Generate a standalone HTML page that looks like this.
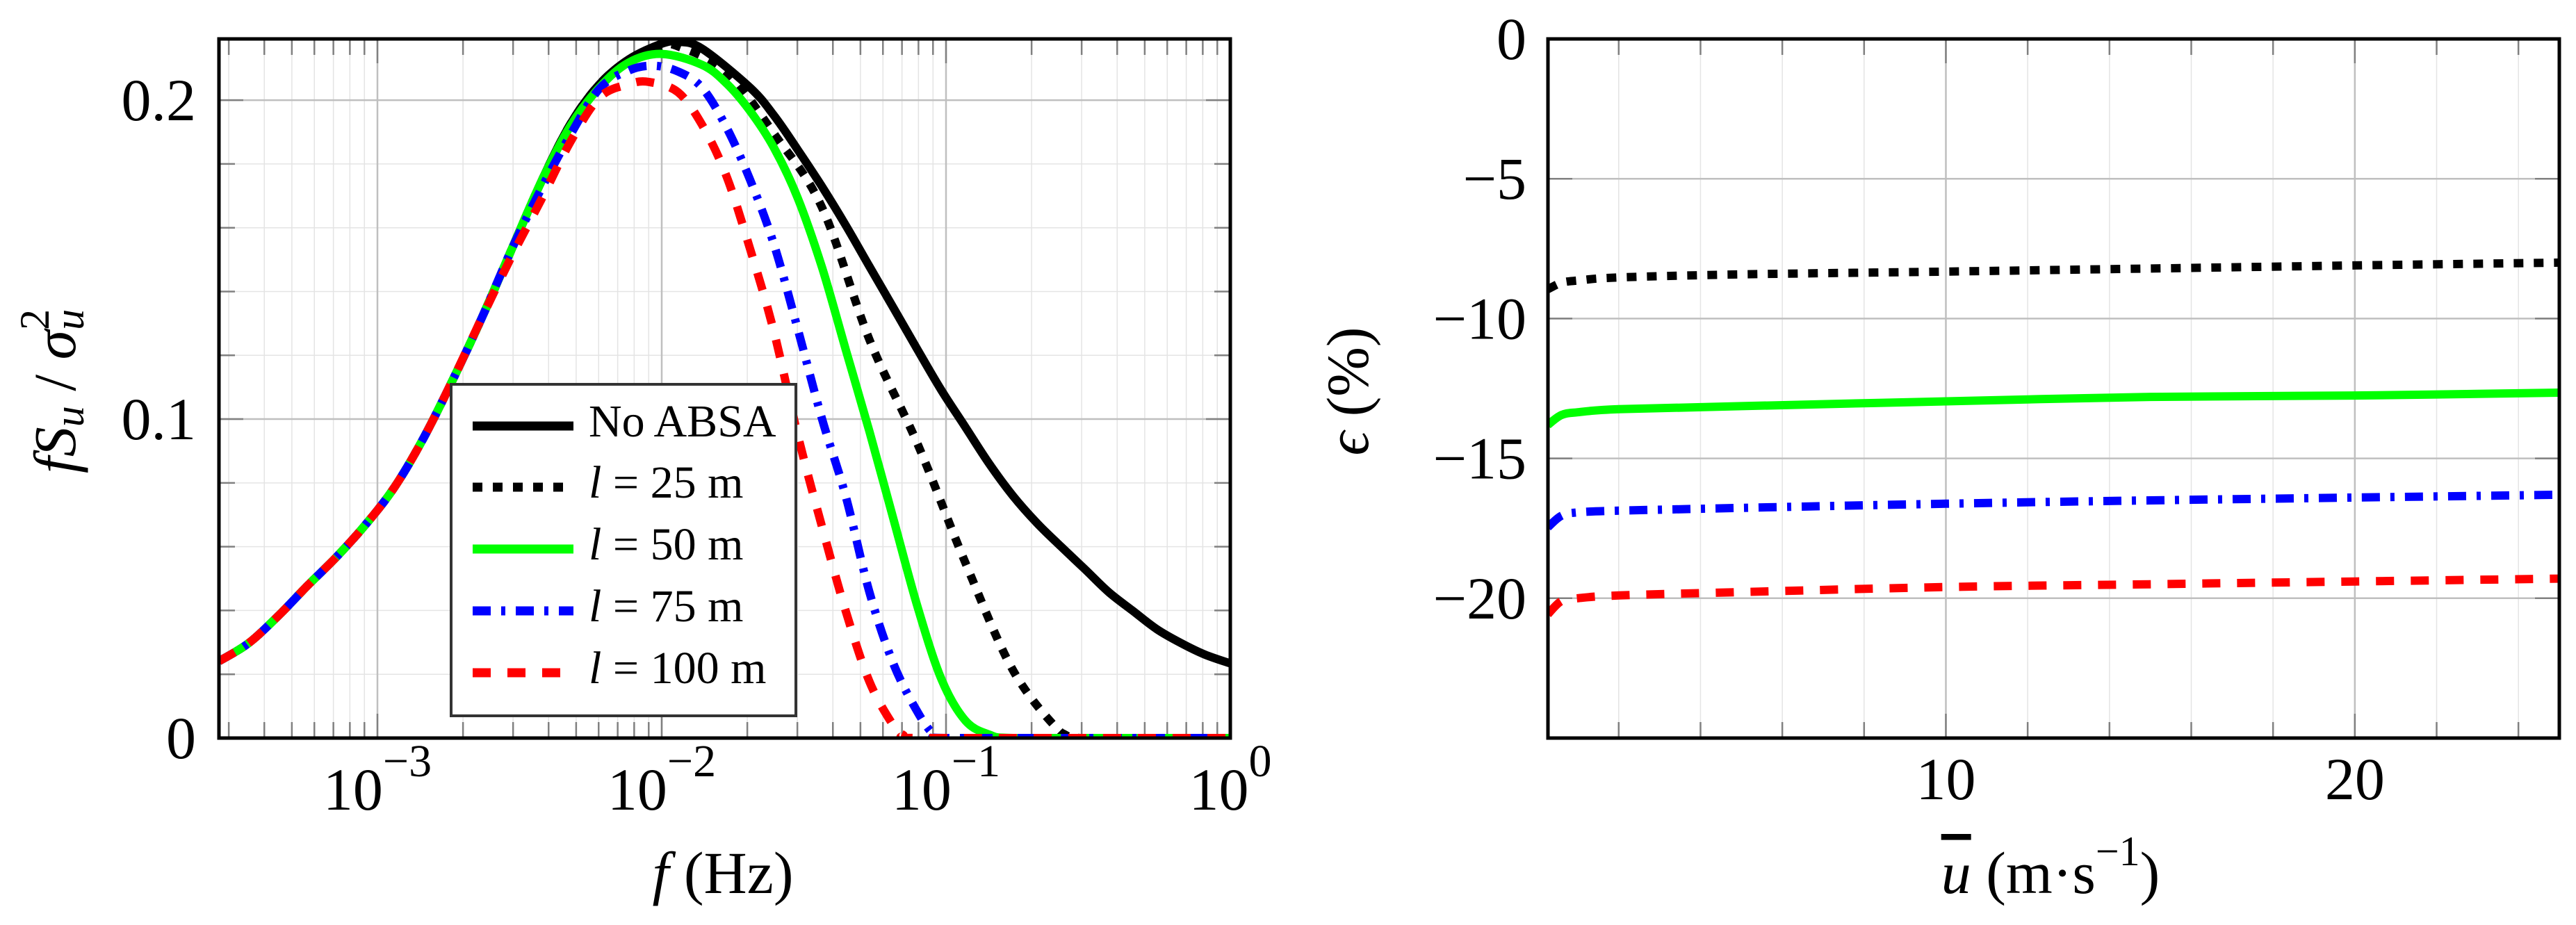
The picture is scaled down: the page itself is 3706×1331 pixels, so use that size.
<!DOCTYPE html>
<html><head><meta charset="utf-8"><style>
html,body{margin:0;padding:0;background:#fff}
svg{display:block}
text{font-family:"Liberation Serif",serif;fill:#000}
</style></head><body>
<svg id="fig" xmlns="http://www.w3.org/2000/svg" width="3706" height="1331" viewBox="0 0 3706 1331"></svg>
<script>
// ---- Left chart data (frequency given as log10 f) ----
const spectrumTicks = [-3, -2, -1, 0];
const spectrumYTicks = [0, 0.1, 0.2];
const logFreqNoAbsa = [-3.557,-3.454,-3.351,-3.248,-3.145,-3.042,-2.939,-2.837,-2.734,-2.631,-2.528,-2.425,-2.322,-2.219,-2.116,-2.0,-1.943,-1.859,-1.69,-1.606,-1.522,-1.437,-1.353,-1.269,-1.185,-1.101,-1.016,-0.932,-0.848,-0.764,-0.679,-0.595,-0.511,-0.427,-0.343,-0.258,-0.174,-0.09,0];
const valNoAbsa     = [0.0241,0.0297,0.0381,0.0476,0.0567,0.0669,0.0788,0.0942,0.1125,0.1321,0.1532,0.1742,0.1924,0.205,0.2128,0.2177,0.2183,0.2162,0.204,0.1953,0.1845,0.173,0.1608,0.1478,0.1349,0.1219,0.109,0.0975,0.086,0.0759,0.0673,0.06,0.0529,0.0457,0.0399,0.0341,0.0298,0.0262,0.0234];
const logFreqL25 = [-3.557,-3.454,-3.351,-3.248,-3.145,-3.042,-2.939,-2.837,-2.734,-2.631,-2.528,-2.425,-2.322,-2.219,-2.116,-2.0,-1.943,-1.774,-1.606,-1.437,-1.269,-1.101,-0.932,-0.764,-0.595,-0.528,-0.3,0];
const valL25     = [0.0241,0.0297,0.0381,0.0476,0.0567,0.0669,0.0788,0.0942,0.1125,0.1321,0.1532,0.1742,0.1924,0.205,0.2126,0.2168,0.2169,0.209,0.1896,0.1665,0.1248,0.0924,0.055,0.0212,0.0017,0,0,0];
const logFreqL50 = [-3.557,-3.454,-3.351,-3.248,-3.145,-3.042,-2.939,-2.837,-2.734,-2.631,-2.528,-2.425,-2.322,-2.219,-2.116,-2.0,-1.859,-1.774,-1.69,-1.606,-1.522,-1.437,-1.353,-1.269,-1.185,-1.101,-1.016,-0.932,-0.848,-0.764,-0.4,0];
const valL50     = [0.0241,0.0297,0.0381,0.0476,0.0567,0.0669,0.0788,0.0942,0.1125,0.1321,0.1532,0.1742,0.1918,0.204,0.2118,0.2145,0.2111,0.2054,0.1967,0.1852,0.1694,0.1478,0.1219,0.096,0.0687,0.0414,0.0184,0.0055,0.0011,0,0,0];
const logFreqL75 = [-3.557,-3.454,-3.351,-3.248,-3.145,-3.042,-2.939,-2.837,-2.734,-2.631,-2.528,-2.425,-2.322,-2.219,-2.116,-2.03,-1.943,-1.859,-1.774,-1.69,-1.606,-1.522,-1.437,-1.353,-1.269,-1.185,-1.101,-1.042,-1.0,-0.5,0];
const valL75     = [0.0241,0.0297,0.0381,0.0476,0.0567,0.0669,0.0788,0.0942,0.1125,0.1321,0.1532,0.172,0.189,0.2036,0.2093,0.2108,0.209,0.204,0.1918,0.1752,0.155,0.1284,0.1003,0.0759,0.0456,0.0233,0.0083,0.001,0,0,0];
const logFreqL100 = [-3.557,-3.454,-3.351,-3.248,-3.145,-3.042,-2.939,-2.837,-2.734,-2.631,-2.528,-2.425,-2.322,-2.219,-2.116,-2.044,-1.943,-1.859,-1.774,-1.69,-1.606,-1.522,-1.437,-1.353,-1.269,-1.185,-1.151,-1.109,-0.6,0];
const valL100     = [0.0241,0.0297,0.0381,0.0476,0.0567,0.0669,0.0788,0.0942,0.1125,0.1321,0.151,0.1686,0.1868,0.2008,0.205,0.2057,0.2025,0.1924,0.1766,0.1536,0.1277,0.0952,0.0665,0.0399,0.0176,0.0039,0.001,0,0,0];
// ---- Right chart data ----
const windSpeeds = [0.27,0.6,1,2,5,10,15,20,25];
const errL25  = [-8.95,-8.72,-8.64,-8.53,-8.42,-8.32,-8.21,-8.1,-8.0];
const errL50  = [-13.8,-13.45,-13.35,-13.24,-13.13,-12.96,-12.8,-12.75,-12.65];
const errL75  = [-17.46,-17.05,-16.93,-16.87,-16.77,-16.62,-16.5,-16.4,-16.3];
const errL100 = [-20.57,-20.1,-20.0,-19.9,-19.78,-19.6,-19.5,-19.4,-19.3];
const errYTicks = [0,-5,-10,-15,-20];
const errXTicks = [10,20];

const NS="http://www.w3.org/2000/svg";
const svg=document.getElementById('fig');
function mk(tag,attrs,parent){const e=document.createElementNS(NS,tag);for(const k in attrs)e.setAttribute(k,attrs[k]);(parent||svg).appendChild(e);return e;}

// Left axes: 10^-2 at x=952, one decade = 409px
const L={x0:315,x1:1770,y0:56,y1:1062,ymin:0,ymax:0.2192};
const lxl=lg=>952+(lg+2)*409;
const ly=v=>L.y1-(v-L.ymin)/(L.ymax-L.ymin)*(L.y1-L.y0);
// Right axes
const R={x0:2227,x1:3682,y0:56,y1:1062,xmin:0.27,xmax:25,ymin:-25,ymax:0};
const rx=u=>R.x0+(u-R.xmin)/(R.xmax-R.xmin)*(R.x1-R.x0);
const ry=v=>R.y1-(v-R.ymin)/(R.ymax-R.ymin)*(R.y1-R.y0);

function crPath(pts,clampY){
  let d='M'+pts[0][0].toFixed(1)+','+pts[0][1].toFixed(1);
  for(let i=0;i<pts.length-1;i++){
    const p0=pts[Math.max(0,i-1)],p1=pts[i],p2=pts[i+1],p3=pts[Math.min(pts.length-1,i+2)];
    let c1=[p1[0]+(p2[0]-p0[0])/6,p1[1]+(p2[1]-p0[1])/6];
    let c2=[p2[0]-(p3[0]-p1[0])/6,p2[1]-(p3[1]-p1[1])/6];
    if(clampY!==undefined){c1[1]=Math.min(c1[1],clampY);c2[1]=Math.min(c2[1],clampY);}
    d+=' C'+c1[0].toFixed(1)+','+c1[1].toFixed(1)+' '+c2[0].toFixed(1)+','+c2[1].toFixed(1)+' '+p2[0].toFixed(1)+','+p2[1].toFixed(1);
  }
  return d;
}

const defs=mk('defs',{});
const cpL=mk('clipPath',{id:'clipL'},defs);mk('rect',{x:L.x0,y:L.y0,width:L.x1-L.x0,height:L.y1-L.y0},cpL);
const cpR=mk('clipPath',{id:'clipR'},defs);mk('rect',{x:R.x0,y:R.y0,width:R.x1-R.x0,height:R.y1-R.y0},cpR);

// ---- Left grid ----
const gL=mk('g',{});


for(let d=-4;d<=-1;d++)for(let k=2;k<=9;k++){const x=lxl(d+Math.log10(k));if(x<=L.x0||x>=L.x1)continue;
  mk('line',{x1:x,x2:x,y1:L.y0,y2:L.y1,stroke:'#e4e4e4','stroke-width':1.5},gL);
  mk('line',{x1:x,x2:x,y1:L.y1,y2:L.y1-23,stroke:'#808080','stroke-width':2.5},gL);
  mk('line',{x1:x,x2:x,y1:L.y0,y2:L.y0+23,stroke:'#808080','stroke-width':2.5},gL);}
for(let i=1;i<=10;i++){const v=i*0.02;if(Math.abs(v-0.1)<1e-9||Math.abs(v-0.2)<1e-9)continue;const y=ly(v);
  mk('line',{x1:L.x0,x2:L.x1,y1:y,y2:y,stroke:'#e4e4e4','stroke-width':1.5},gL);
  mk('line',{x1:L.x0,x2:L.x0+23,y1:y,y2:y,stroke:'#808080','stroke-width':2.5},gL);
  mk('line',{x1:L.x1,x2:L.x1-23,y1:y,y2:y,stroke:'#808080','stroke-width':2.5},gL);}
spectrumTicks.forEach(t=>{const x=lxl(t);
  if(x>=L.x1-2) return;
  mk('line',{x1:x,x2:x,y1:L.y0,y2:L.y1,stroke:'#bfbfbf','stroke-width':2.5},gL);
  mk('line',{x1:x,x2:x,y1:L.y1,y2:L.y1-35,stroke:'#808080','stroke-width':2.5},gL);
  mk('line',{x1:x,x2:x,y1:L.y0,y2:L.y0+35,stroke:'#808080','stroke-width':2.5},gL);});
spectrumYTicks.forEach(v=>{const y=ly(v);if(v===0)return;
  mk('line',{x1:L.x0,x2:L.x1,y1:y,y2:y,stroke:'#bfbfbf','stroke-width':2.5},gL);
  mk('line',{x1:L.x0,x2:L.x0+35,y1:y,y2:y,stroke:'#808080','stroke-width':2.5},gL);
  mk('line',{x1:L.x1,x2:L.x1-35,y1:y,y2:y,stroke:'#808080','stroke-width':2.5},gL);});

// ---- Left series ----
const seriesL=[
 {name:'no-absa-curve',f:logFreqNoAbsa,v:valNoAbsa,c:'#000',dash:''},
 {name:'l25-curve',f:logFreqL25,v:valL25,c:'#000',dash:'14 15'},
 {name:'l50-curve',f:logFreqL50,v:valL50,c:'#00ff00',dash:''},
 {name:'l75-curve',f:logFreqL75,v:valL75,c:'#0000ff',dash:'26 15 6 15'},
 {name:'l100-curve',f:logFreqL100,v:valL100,c:'#ff0000',dash:'26 24'}];
const gLs=mk('g',{'clip-path':'url(#clipL)'});
seriesL.forEach(s=>{const pts=s.f.map((f,i)=>[lxl(f),ly(s.v[i])]);
  const p=mk('path',{d:crPath(pts,L.y1),fill:'none',stroke:s.c,'stroke-width':12,'stroke-dasharray':s.dash||'none','stroke-linejoin':'round'},gLs);
  
  });
const fl=mk('rect',{x:L.x0,y:L.y0,width:L.x1-L.x0,height:L.y1-L.y0,fill:'none',stroke:'#000','stroke-width':5});



// Left tick labels
spectrumTicks.forEach(t=>{const x=Math.min(lxl(t),L.x1+4);
  const tx=mk('text',{x:x,y:1165,'font-size':86,'text-anchor':'middle'});
  
  
  const a=mk('tspan',{},tx);a.textContent='10';
  const b=mk('tspan',{dy:-48,'font-size':66},tx);b.textContent=(t<0?'\u2212'+(-t):''+t);});
spectrumYTicks.forEach(v=>{const t=mk('text',{x:282,y:ly(v)+29,'font-size':86,'text-anchor':'end'});
  
  
  t.textContent=(v===0?'0':v.toFixed(1));});

// ---- Right grid ----
const gR=mk('g',{});


for(let u=2;u<=24;u+=2){const x=rx(u);const major=(u%10===0);
  mk('line',{x1:x,x2:x,y1:R.y0,y2:R.y1,stroke:major?'#bfbfbf':'#e4e4e4','stroke-width':major?2.5:1.5},gR);
  mk('line',{x1:x,x2:x,y1:R.y1,y2:R.y1-(major?35:23),stroke:'#808080','stroke-width':2.5},gR);
  mk('line',{x1:x,x2:x,y1:R.y0,y2:R.y0+(major?35:23),stroke:'#808080','stroke-width':2.5},gR);}
errYTicks.forEach(v=>{if(v===0)return;const y=ry(v);
  mk('line',{x1:R.x0,x2:R.x1,y1:y,y2:y,stroke:'#bfbfbf','stroke-width':2.5},gR);
  mk('line',{x1:R.x0,x2:R.x0+35,y1:y,y2:y,stroke:'#808080','stroke-width':2.5},gR);
  mk('line',{x1:R.x1,x2:R.x1-35,y1:y,y2:y,stroke:'#808080','stroke-width':2.5},gR);});
const seriesR=[
 {name:'error-l25',v:errL25,c:'#000',dash:'14 15'},
 {name:'error-l50',v:errL50,c:'#00ff00',dash:''},
 {name:'error-l75',v:errL75,c:'#0000ff',dash:'26 15 6 15'},
 {name:'error-l100',v:errL100,c:'#ff0000',dash:'26 24'}];
const gRs=mk('g',{'clip-path':'url(#clipR)'});
seriesR.forEach(s=>{const pts=windSpeeds.map((u,i)=>[rx(u),ry(s.v[i])]);
  const p=mk('path',{d:crPath(pts),fill:'none',stroke:s.c,'stroke-width':12,'stroke-dasharray':s.dash||'none'},gRs);
  
  });
const fr=mk('rect',{x:R.x0,y:R.y0,width:R.x1-R.x0,height:R.y1-R.y0,fill:'none',stroke:'#000','stroke-width':5});


errXTicks.forEach(u=>{const t=mk('text',{x:rx(u),y:1150,'font-size':86,'text-anchor':'middle'});
  
  
  t.textContent=String(u);});
errYTicks.forEach(v=>{const t=mk('text',{x:2196,y:ry(v)+29,'font-size':86,'text-anchor':'end'});
  
  
  t.textContent=(v<0?'\u2212'+(-v):'0');});
</script>
<svg xmlns="http://www.w3.org/2000/svg" width="3706" height="1331" style="position:absolute;left:0;top:0">
 <g>
  <rect x="649" y="553" width="496" height="477" fill="#fff" stroke="#333" stroke-width="4"/>
  <line x1="680" x2="825" y1="613" y2="613" stroke="#000" stroke-width="13"/>
  <text x="847" y="628" font-size="66">No ABSA</text>
  <line x1="680" x2="825" y1="701" y2="701" stroke="#000" stroke-width="13" stroke-dasharray="14 15"/>
  <text x="847" y="716" font-size="66"><tspan font-style="italic">l</tspan> = 25 m</text>
  <line x1="680" x2="825" y1="790" y2="790" stroke="#00ff00" stroke-width="13"/>
  <text x="847" y="805" font-size="66"><tspan font-style="italic">l</tspan> = 50 m</text>
  <line x1="680" x2="825" y1="879" y2="879" stroke="#0000ff" stroke-width="13" stroke-dasharray="26 15 6 15"/>
  <text x="847" y="894" font-size="66"><tspan font-style="italic">l</tspan> = 75 m</text>
  <line x1="680" x2="825" y1="968" y2="968" stroke="#ff0000" stroke-width="13" stroke-dasharray="26 24"/>
  <text x="847" y="983" font-size="66"><tspan font-style="italic">l</tspan> = 100 m</text>
 </g>
 <text x="1040" y="1285" font-size="86" text-anchor="middle" fill="#222"><tspan font-style="italic">f</tspan> (Hz)</text>
 <text transform="translate(108,563) rotate(-90)" font-size="86" text-anchor="middle" fill="#222"><tspan font-style="italic">fS</tspan><tspan font-style="italic" font-size="60" dy="12">u</tspan><tspan dy="-12"> / </tspan><tspan font-style="italic">σ</tspan><tspan font-style="italic" font-size="60" dy="12">u</tspan><tspan font-size="60" dx="-30" dy="-50">2</tspan></text>
 <text x="2950" y="1285" font-size="86" text-anchor="middle" fill="#222"><tspan font-style="italic" text-decoration="overline">u</tspan> (m·s<tspan font-size="60" dy="-40">−1</tspan><tspan dy="40">)</tspan></text>
 <text transform="translate(1968,563) rotate(-90)" font-size="86" text-anchor="middle" fill="#222"><tspan font-style="italic">ϵ</tspan> (%)</text>
</svg>
</body></html>
